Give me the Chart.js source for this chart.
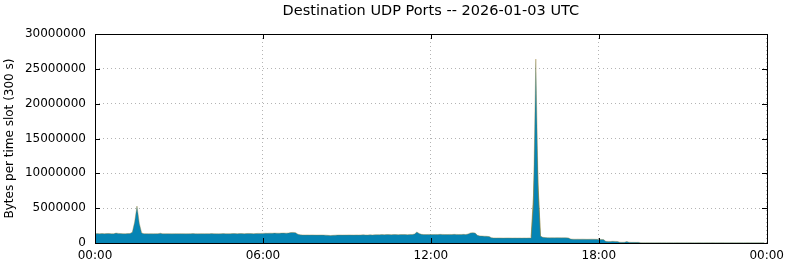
<!DOCTYPE html>
<html>
<head>
<meta charset="utf-8">
<script src="https://cdn.jsdelivr.net/npm/chart.js@4.4.1/dist/chart.umd.min.js"></script>
<style>
  html, body { margin: 0; padding: 0; background: #fff; }
  #wrap { width: 790px; height: 267px; }
</style>
</head>
<body>
<div id="wrap"><canvas id="c" width="790" height="267"></canvas></div>
<script>
// ---- data ----
const TITLE = 'Destination UDP Ports -- 2026-01-03 UTC';
const Y_TITLE = 'Bytes per time slot (300 s)';
const SLOT_MINUTES = 5;            // 300 s slots, 288 per day
const X_TICK_LABELS = ['00:00', '06:00', '12:00', '18:00', '00:00'];
const Y_MAX = 30000000;
const Y_STEP = 5000000;
const MB = 1000000;

// Main port: bytes per slot (in MB), one row per hour (12 slots each)
const udpMB = [
  1.34,1.35,1.33,1.36,1.34,1.35,1.37,1.34,1.33,1.42,1.38,1.35,
  1.34,1.33,1.35,1.36,1.55,3.00,5.30,2.80,1.45,1.33,1.34,1.32,
  1.33,1.32,1.34,1.33,1.40,1.33,1.32,1.34,1.33,1.32,1.33,1.34,
  1.33,1.34,1.33,1.32,1.33,1.34,1.35,1.33,1.32,1.33,1.34,1.33,
  1.34,1.33,1.35,1.34,1.33,1.32,1.34,1.35,1.34,1.33,1.34,1.36,
  1.35,1.34,1.36,1.35,1.34,1.36,1.37,1.35,1.34,1.36,1.38,1.37,
  1.38,1.40,1.39,1.41,1.40,1.42,1.41,1.40,1.42,1.43,1.41,1.44,
  1.50,1.52,1.48,1.25,1.17,1.16,1.15,1.16,1.15,1.16,1.15,1.14,
  1.14,1.15,1.14,1.13,1.10,1.08,1.10,1.13,1.14,1.15,1.14,1.15,
  1.15,1.16,1.15,1.14,1.16,1.15,1.16,1.17,1.16,1.15,1.17,1.16,
  1.18,1.20,1.19,1.21,1.20,1.22,1.21,1.20,1.22,1.21,1.20,1.22,
  1.21,1.22,1.20,1.23,1.22,1.28,1.58,1.35,1.24,1.22,1.21,1.23,
  1.22,1.21,1.23,1.22,1.24,1.23,1.22,1.21,1.23,1.22,1.24,1.23,
  1.22,1.23,1.24,1.22,1.30,1.45,1.47,1.42,1.10,1.02,1.00,0.98,
  0.96,0.92,0.76,0.73,0.72,0.73,0.72,0.71,0.72,0.73,0.72,0.71,
  0.72,0.71,0.72,0.70,0.72,0.71,0.73,0.72,5.50,26.40,7.50,1.00,
  0.82,0.78,0.76,0.74,0.75,0.74,0.76,0.75,0.74,0.75,0.74,0.73,
  0.56,0.55,0.54,0.55,0.54,0.55,0.54,0.53,0.54,0.55,0.54,0.53,
  0.52,0.51,0.50,0.24,0.23,0.22,0.24,0.23,0.22,0.12,0.11,0.12,
  0.20,0.12,0.10,0.10,0.09,0.10,0.05,0.04,0.04,0.05,0.04,0.04,
  0.03,0.04,0.05,0.03,0.04,0.03,0.05,0.04,0.03,0.04,0.05,0.04,
  0.04,0.03,0.04,0.05,0.04,0.03,0.04,0.05,0.04,0.03,0.04,0.05,
  0.04,0.05,0.03,0.04,0.04,0.05,0.04,0.03,0.04,0.05,0.04,0.04,
  0.05,0.04,0.03,0.04,0.05,0.04,0.04,0.03,0.04,0.05,0.04,0.04
];

// Secondary port, only visible around the afternoon spike
const otherSlots = [187, 188, 189, 190, 191];
const otherMB    = [0.90, 6.80, 17.0, 8.20, 1.00];

// ---- chart ----
Chart.defaults.font.family = "'DejaVu Sans', sans-serif";
Chart.defaults.color = '#000';

const slotHour = i => i * SLOT_MINUTES / 60;
const mainPoints = udpMB.map((v, i) => ({ x: slotHour(i), y: v * MB }));
const otherPoints = otherSlots.map((s, i) => ({ x: slotHour(s), y: otherMB[i] * MB }));

const framePlugin = {
  id: 'frame',
  afterDraw(chart) {
    const { ctx, chartArea } = chart;
    const L = Math.round(chartArea.left), R = Math.round(chartArea.right);
    const T = Math.round(chartArea.top), B = Math.round(chartArea.bottom);
    ctx.save();
    ctx.strokeStyle = '#000';
    ctx.lineWidth = 1;
    ctx.beginPath();
    const ys = chart.scales.y, xs = chart.scales.x;
    ys.ticks.forEach(t => {
      const p = Math.round(ys.getPixelForValue(t.value)) + 0.5;
      ctx.moveTo(L, p); ctx.lineTo(L + 5, p);
      ctx.moveTo(R, p); ctx.lineTo(R - 5, p);
    });
    xs.ticks.forEach(t => {
      const p = Math.round(xs.getPixelForValue(t.value)) + 0.5;
      ctx.moveTo(p, B); ctx.lineTo(p, B - 5);
      ctx.moveTo(p, T); ctx.lineTo(p, T + 5);
    });
    ctx.stroke();
    ctx.strokeRect(L + 0.5, T + 0.5, R - L, B - T);
    ctx.restore();
  }
};

new Chart(document.getElementById('c'), {
  type: 'line',
  data: {
    datasets: [{
      label: 'UDP main',
      data: mainPoints,
      backgroundColor: '#0584b4',
      borderColor: 'rgba(150,125,50,0.4)',
      borderWidth: 1,
      pointRadius: 0,
      tension: 0,
      fill: 'origin'
    }, {
      label: 'UDP other',
      data: otherPoints,
      backgroundColor: '#8a8a4a',
      borderColor: 'rgba(138,138,74,0.6)',
      borderWidth: 1,
      pointRadius: 0,
      tension: 0,
      fill: 'origin'
    }]
  },
  options: {
    responsive: false,
    animation: false,
    events: [],
    layout: { padding: { left: 0, right: 20.7, top: 0, bottom: 0 } },
    plugins: {
      legend: { display: false },
      tooltip: { enabled: false },
      title: {
        display: true,
        fullSize: false,
        text: TITLE,
        color: '#000',
        font: { size: 14.5, weight: 'normal' },
        padding: { top: 3, bottom: 13.6 }
      }
    },
    scales: {
      x: {
        type: 'linear',
        min: 0,
        max: 24,
        afterFit(s) { s.height = 24; },
        afterBuildTicks(s) {
          s.ticks = X_TICK_LABELS.map((_, i) => ({ value: i * 6 }));
        },
        ticks: {
          autoSkip: false,
          maxRotation: 0,
          padding: 6,
          font: { size: 12 },
          callback: (v, i) => X_TICK_LABELS[i]
        },
        grid: { color: '#b4b4b4', lineWidth: 1, drawTicks: false },
        border: { display: false, dash: [1, 3] }
      },
      y: {
        min: 0,
        max: Y_MAX,
        afterFit(s) { s.width = 95; },
        ticks: {
          stepSize: Y_STEP,
          padding: 9,
          font: { size: 12 },
          callback: v => String(v)
        },
        title: {
          display: true,
          text: Y_TITLE,
          font: { size: 12 },
          padding: { top: 3, bottom: 0 }
        },
        grid: { color: '#b4b4b4', lineWidth: 1, drawTicks: false },
        border: { display: false, dash: [1, 3] }
      }
    }
  },
  plugins: [framePlugin]
});
</script>
</body>
</html>
